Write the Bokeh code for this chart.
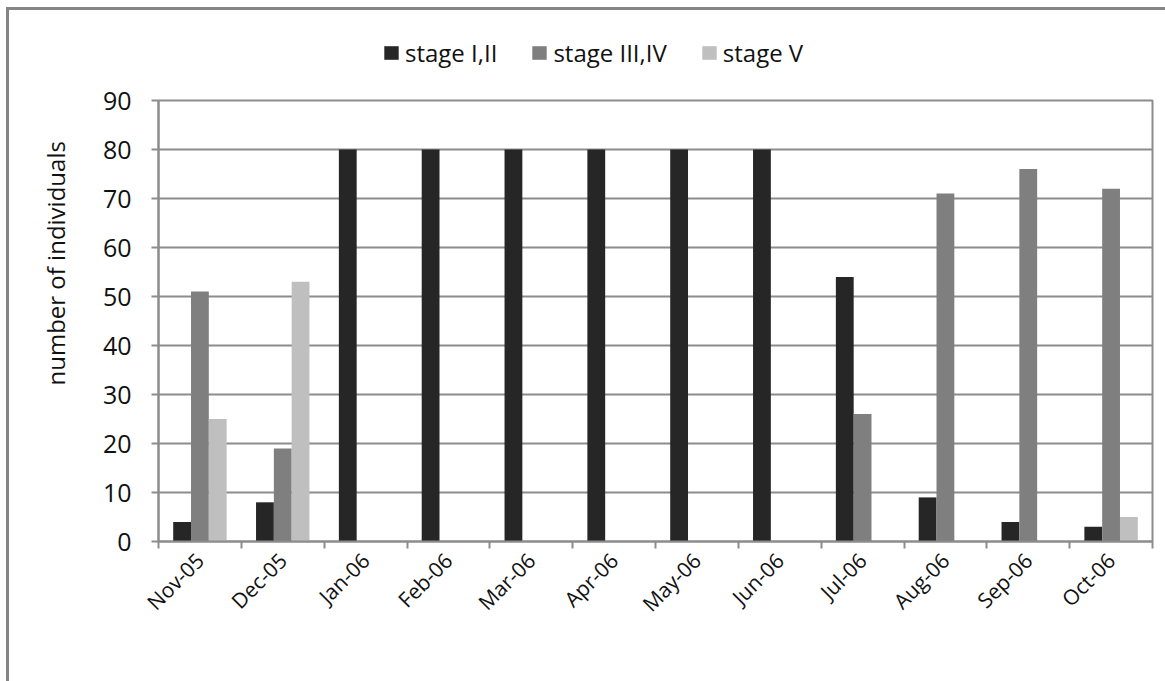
import math
from bokeh.plotting import figure
from bokeh.layouts import column
from bokeh.models import (ColumnDataSource, FixedTicker, Legend, LegendItem,
                          Range1d, Title)
from bokeh.transform import dodge
from bokeh.embed import file_html
from bokeh.resources import INLINE

months = ["Nov-05", "Dec-05", "Jan-06", "Feb-06", "Mar-06", "Apr-06",
          "May-06", "Jun-06", "Jul-06", "Aug-06", "Sep-06", "Oct-06"]
stage_1_2 = [4, 8, 80, 80, 80, 80, 80, 80, 54, 9, 4, 3]
stage_3_4 = [51, 19, 0, 0, 0, 0, 0, 0, 26, 71, 76, 72]
stage_5 = [25, 53, 0, 0, 0, 0, 0, 0, 0, 0, 0, 5]
y_ticks = [0, 10, 20, 30, 40, 50, 60, 70, 80, 90]

series = [
    ("stage I,II", "s12", "#262626"),
    ("stage III,IV", "s34", "#7f7f7f"),
    ("stage V", "s5", "#bfbfbf"),
]

FONT = "Open Sans"
GRID = "#8c8c8c"
TEXT = "#111111"
BAR_W = 0.215
W = 1156

source = ColumnDataSource(dict(
    idx=list(range(len(months))),
    s12=stage_1_2, s34=stage_3_4, s5=stage_5,
))

# --- legend strip on top ---------------------------------------------------
lg = figure(width=W, height=65, output_backend="svg", toolbar_location=None,
            x_range=Range1d(0, 1), y_range=Range1d(0, 1),
            x_axis_location=None, y_axis_location=None,
            min_border=0, outline_line_color=None)
lg.grid.grid_line_color = None
# one zero-height bar per series, only there to give the legend its swatches
swatch = ColumnDataSource(dict(x=[0.5], top=[0]))
key_items = []
for name, _, color in series:
    r = lg.vbar(x="x", top="top", width=0.1, source=swatch,
                fill_color=color, line_color=None)
    key_items.append(LegendItem(label=name, renderers=[r]))
legend = Legend(items=key_items, orientation="horizontal", location=(224, 6),
                label_text_font=FONT, label_text_font_size="24px",
                label_text_color=TEXT,
                glyph_width=18, glyph_height=17, spacing=33,
                label_standoff=5, border_line_color=None,
                background_fill_alpha=0, padding=5, margin=0)
lg.add_layout(legend, "center")

# --- main bar chart --------------------------------------------------------
p = figure(width=W, height=606, output_backend="svg", toolbar_location=None,
           x_range=Range1d(0, len(months)), y_range=Range1d(0, 90),
           min_border_left=146, min_border_right=13,
           min_border_top=25, min_border_bottom=140)
p.background_fill_color = "white"
p.border_fill_color = "white"
p.outline_line_color = GRID
p.outline_line_width = 2

for k, (name, col, color) in enumerate(series):
    p.vbar(x=dodge("idx", 0.5 + (k - 1) * BAR_W, range=p.x_range), top=col,
           width=BAR_W, bottom=0, source=source,
           fill_color=color, line_color=None)

# x axis: labels at category centres, ticks between categories
centres = [i + 0.5 for i in range(len(months))]
p.xaxis.ticker = FixedTicker(ticks=centres, minor_ticks=list(range(len(months) + 1)))
p.xaxis.major_label_overrides = {c: m for c, m in zip(centres, months)}
p.xaxis.major_label_orientation = math.pi / 4
p.xaxis.major_tick_out = 0
p.xaxis.major_tick_in = 0
p.xaxis.minor_tick_out = 7
p.xaxis.minor_tick_in = 0
p.xaxis.minor_tick_line_color = GRID
p.xaxis.minor_tick_line_width = 2
p.xaxis.axis_line_color = GRID
p.xaxis.axis_line_width = 2
p.xaxis.major_label_standoff = 8
p.xaxis.major_label_text_font = FONT
p.xaxis.major_label_text_font_size = "21px"
p.xaxis.major_label_text_color = TEXT

p.yaxis.ticker = FixedTicker(ticks=y_ticks)
p.yaxis.minor_tick_line_color = None
p.yaxis.major_tick_out = 7
p.yaxis.major_tick_in = 0
p.yaxis.major_tick_line_color = GRID
p.yaxis.major_tick_line_width = 2
p.yaxis.axis_line_color = GRID
p.yaxis.axis_line_width = 2
p.yaxis.major_label_standoff = 20
p.yaxis.major_label_text_font = FONT
p.yaxis.major_label_text_font_size = "25px"
p.yaxis.major_label_text_color = TEXT

# y-axis title, starting well above the frame's bottom
p.add_layout(Title(text="number of individuals", align="left", offset=156,
                   text_font=FONT, text_font_size="24px",
                   text_font_style="normal", text_color=TEXT,
                   standoff=55), "left")

p.xgrid.grid_line_color = None
p.ygrid.grid_line_color = GRID
p.ygrid.grid_line_width = 2

page = column(lg, p, spacing=0,
              styles={"border-left": "3px solid #858585",
                      "border-top": "3px solid #858585",
                      "margin-left": "6px", "margin-top": "7px"})

open("out.html", "w").write(file_html(page, INLINE))
